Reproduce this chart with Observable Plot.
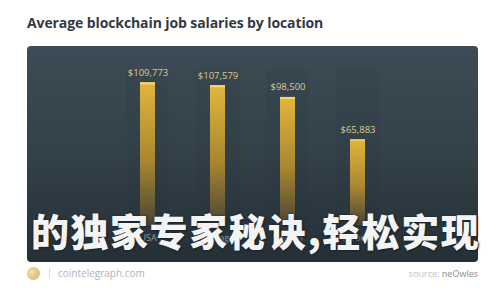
<!DOCTYPE html>
<html>
<head>
<meta charset="utf-8">
<script src="https://cdn.jsdelivr.net/npm/d3@7"></script>
<script src="https://cdn.jsdelivr.net/npm/@observablehq/plot@0.6"></script>
<style>
  html, body { margin: 0; padding: 0; background: #fff; }
  #page { position: relative; width: 500px; height: 300px; overflow: hidden; font-family: "Open Sans", "Noto Sans", sans-serif; }
  #title { position: absolute; left: 27px; top: 13px; font-size: 14px; font-weight: 700; color: #333a3f; white-space: nowrap; letter-spacing: -0.1px; }
  #panel { position: absolute; left: 27px; top: 46px; width: 451px; height: 216px; border-radius: 4px; overflow: hidden;
           background: linear-gradient(180deg, #3c4b55 0%, #334149 50%, #252f36 100%); }
  #panel svg { display: block; }
  #overlay { position: absolute; left: 31px; top: 208px; font-family: "Noto Sans CJK SC", sans-serif; font-weight: 900; font-size: 38px;
             letter-spacing: 1.5px; color: #f4f4f4; white-space: nowrap; text-shadow: 0 0 2px #1c252b, 1px 1px 2px #1c252b; line-height: 44px; }
  #footer-left { position: absolute; left: 27px; top: 266px; display: flex; align-items: center; }
  #logo { width: 13px; height: 13px; border-radius: 50%; background: radial-gradient(circle at 35% 40%, #f3e2a6 0%, #d9c27f 60%, #c9c9c9 100%); }
  #sep { width: 1px; height: 10px; background: #ddd; margin-left: 9px; }
  #site { margin-left: 8px; font-size: 10px; color: #b3b3b3; }
  #source { position: absolute; right: 22px; top: 267px; font-size: 9px; color: #c3c3c3; }
  #source b { font-weight: 400; color: #8d8d8d; }
</style>
</head>
<body>
<div id="page">
  <div id="title"></div>
  <div id="panel"></div>
  <div id="overlay"></div>
  <div id="footer-left"><div id="logo"></div><div id="sep"></div><div id="site">cointelegraph.com</div></div>
  <div id="source">source: <b>neOwles</b></div>
</div>
<script>
// ---- data ----
const titleText = "Average blockchain job salaries by location";
const locations = ["USA", "Chicago", "Boston", "Toronto"];
const salaries = [109773, 107579, 98500, 65883];
const valueLabels = ["$109,773", "$107,579", "$98,500", "$65,883"];
const overlayText = "的独家专家秘诀,轻松实现";

document.getElementById("title").textContent = titleText;
document.getElementById("overlay").textContent = overlayText;

const rows = locations.map((loc, i) => ({loc, salary: salaries[i], label: valueLabels[i]}));
const yMax = 120000;

const chart = Plot.plot({
  width: 451,
  height: 216,
  marginLeft: 85,
  marginRight: 85,
  marginTop: 23,
  marginBottom: 37,
  style: {background: "transparent", fontFamily: "'Open Sans', sans-serif"},
  x: {domain: locations, paddingInner: 0.787, paddingOuter: 0.39, label: null, tickSize: 0, tickPadding: 9},
  y: {domain: [0, yMax], axis: null},
  marks: [
    Plot.barY(rows, {x: "loc", y: () => yMax, fill: "#1b252b", fillOpacity: 0.06, insetLeft: -14, insetRight: -14}),
    Plot.barY(rows, {x: "loc", y: "salary", fill: "url(#goldGrad)"}),
    Plot.barY(rows, {x: "loc", y1: "salary", y2: d => d.salary * 0.985, fill: "#f6d774"}),
    Plot.text(rows, {x: "loc", y: "salary", text: "label", dy: -10, fill: "#dccb92", fontSize: 9.5}),
    Plot.axisX({tickSize: 0, tickPadding: 9, fontSize: 9, color: "#8b979e", label: null})
  ]
});

const svg = d3.select(chart);
const defs = svg.insert("defs", ":first-child");
const g = defs.append("linearGradient").attr("id", "goldGrad").attr("x1", 0).attr("y1", 0).attr("x2", 0).attr("y2", 1);
g.append("stop").attr("offset", "0%").attr("stop-color", "#e2b63d");
g.append("stop").attr("offset", "55%").attr("stop-color", "#a8872f");
g.append("stop").attr("offset", "100%").attr("stop-color", "#4a4534");
svg.selectAll("g[aria-label='x-axis tick label'] text, g[aria-label='x-axis tick label']").attr("fill", "#8b979e");

document.getElementById("panel").appendChild(chart);
</script>
</body>
</html>
